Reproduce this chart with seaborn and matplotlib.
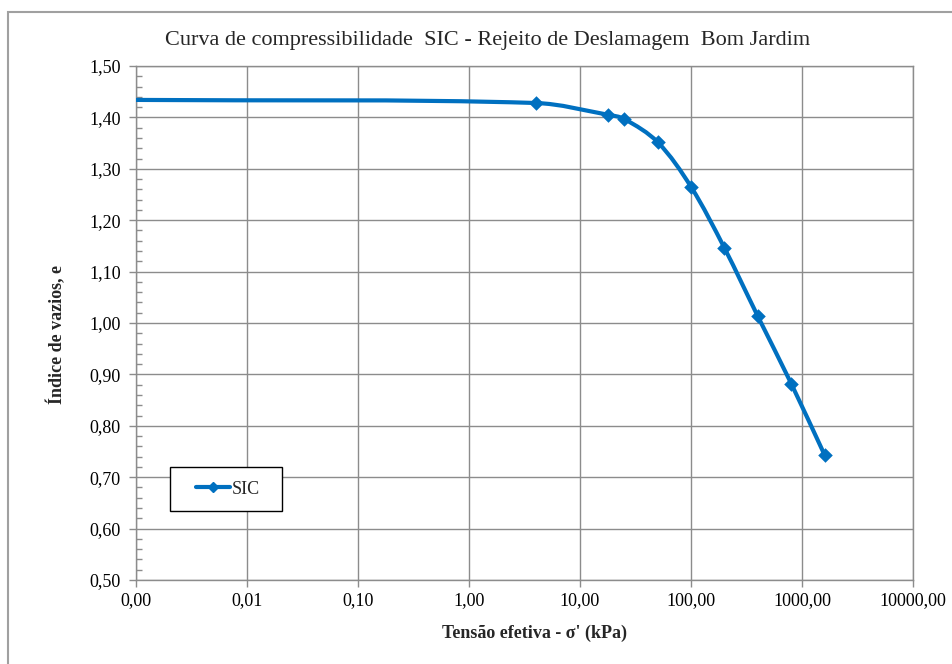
import matplotlib
matplotlib.use("Agg")
import matplotlib.pyplot as plt
import matplotlib.ticker as mticker
from matplotlib.patches import Rectangle, PathPatch
from matplotlib.path import Path
from matplotlib.lines import Line2D
import seaborn as sns
import pandas as pd
import numpy as np

# Compressibility curve data (effective stress in kPa, void ratio)
tensao = [0.001, 4, 18, 25, 50, 100, 200, 400, 800, 1600]
indice_vazios = [1.434, 1.428, 1.405, 1.397, 1.352, 1.265, 1.146, 1.013, 0.882, 0.743]
x_ticks = [0.001, 0.01, 0.1, 1, 10, 100, 1000, 10000]
x_tick_labels = ["0,00", "0,01", "0,10", "1,00", "10,00", "100,00", "1000,00", "10000,00"]
y_ticks = [0.50, 0.60, 0.70, 0.80, 0.90, 1.00, 1.10, 1.20, 1.30, 1.40, 1.50]

sns.set_theme(style="white")
plt.rcParams["font.family"] = ["Liberation Serif", "DejaVu Serif"]

df = pd.DataFrame({"tensao": tensao, "e": indice_vazios})

fig = plt.figure(figsize=(9.53, 6.64), dpi=100)
ax = fig.add_axes([136 / 953, 1 - 580 / 664, (913 - 136) / 953, (580 - 66) / 664])

blue = "#0070C0"
grid_c = "#8c8c8c"

ax.set_xscale("log")
ax.set_xlim(0.001, 10000)
ax.set_ylim(0.5, 1.5)


def smooth_path(xs, ys):
    """Smoothed Bezier path through the points, built in log-x space.

    Tangent directions follow the neighbouring points; handle lengths are a
    third of each segment, so short segments stay gently curved.
    """
    lx = np.log10(np.asarray(xs, float))
    yy = np.asarray(ys, float)
    # scale to roughly square units so the smoothing looks even on screen
    sx, sy = 777 / 7.0, 514 / 1.0
    p = np.column_stack([lx * sx, yy * sy])
    n = len(p)
    tang = np.zeros_like(p)
    for i in range(n):
        d = p[min(i + 1, n - 1)] - p[max(i - 1, 0)]
        tang[i] = d / np.hypot(*d)
    verts = [tuple(p[0])]
    codes = [Path.MOVETO]
    for i in range(n - 1):
        seg = np.hypot(*(p[i + 1] - p[i])) / 3.0
        c1 = p[i] + tang[i] * seg
        c2 = p[i + 1] - tang[i + 1] * seg
        verts += [tuple(c1), tuple(c2), tuple(p[i + 1])]
        codes += [Path.CURVE4] * 3
    verts = np.array(verts)
    verts[:, 0] = 10 ** (verts[:, 0] / sx)
    verts[:, 1] = verts[:, 1] / sy
    return Path(verts, codes)


ax.add_patch(PathPatch(smooth_path(tensao, indice_vazios), facecolor="none",
                       edgecolor=blue, linewidth=3, zorder=3,
                       capstyle="butt", joinstyle="round"))
sns.scatterplot(data=df.iloc[1:], x="tensao", y="e", ax=ax, color=blue,
                marker="D", s=55, edgecolor=blue, linewidth=0, zorder=4,
                legend=False)

ax.set_xticks(x_ticks)
ax.set_xticklabels(x_tick_labels)
ax.xaxis.set_minor_locator(mticker.NullLocator())
ax.set_yticks(y_ticks)
ax.set_yticklabels([f"{v:.2f}".replace(".", ",") for v in y_ticks])
ax.yaxis.set_minor_locator(mticker.MultipleLocator(0.02))

ax.grid(True, which="major", color=grid_c, linewidth=1)
for s in ax.spines.values():
    s.set_color(grid_c)
    s.set_linewidth(1)

ax.tick_params(axis="both", which="major", labelsize=13, colors="black",
               length=5, width=1, color=grid_c, pad=6)
ax.tick_params(axis="y", which="major", direction="out", left=True)
ax.tick_params(axis="x", which="major", direction="out", bottom=True, pad=4)
ax.tick_params(axis="y", which="minor", direction="in", left=True, length=4,
               width=1, color=grid_c)

ax.set_xlabel("Tensão efetiva - σ' (kPa)", fontsize=13, fontweight="bold")
ax.xaxis.set_label_coords((535 - 136) / 777, (580 - 633) / 514)
ax.xaxis.label.set_verticalalignment("center")
ax.set_ylabel("Índice de vazios, e", fontsize=13, fontweight="bold")
ax.yaxis.set_label_coords((57 - 136) / 777, (580 - 334) / 514)
ax.yaxis.label.set_verticalalignment("center")

fig.text(488 / 953, 1 - 40 / 664,
         "Curva de compressibilidade  SIC - Rejeito de Deslamagem  Bom Jardim",
         fontsize=16, ha="center", va="center")

# legend: white box with the series sample centred inside
box_x0, box_x1, box_top, box_bot = 170, 282, 467, 511
ax.add_patch(Rectangle(((box_x0 - 136) / 777, (580 - box_bot) / 514),
                       (box_x1 - box_x0) / 777, (box_bot - box_top) / 514,
                       transform=ax.transAxes, facecolor="white",
                       edgecolor="black", linewidth=1, zorder=5))
handle = Line2D([], [], color=blue, linewidth=3, marker="D", markersize=5)
leg = ax.legend([handle], ["SIC"], loc="center",
                bbox_to_anchor=(((box_x0 + box_x1) / 2 + 2 - 136) / 777,
                                (580 - (box_top + box_bot) / 2) / 514),
                frameon=False, fontsize=13, handlelength=1.9,
                handletextpad=0.1, borderpad=0, borderaxespad=0)
leg.set_zorder(6)

# outer chart border
fig.patches.append(Rectangle((8 / 953, -0.1), 1.2, 1 - 12 / 664 + 0.1,
                             transform=fig.transFigure, fill=False,
                             edgecolor="#a0a0a0", linewidth=1.5))

fig.savefig("out.png", dpi=100)
